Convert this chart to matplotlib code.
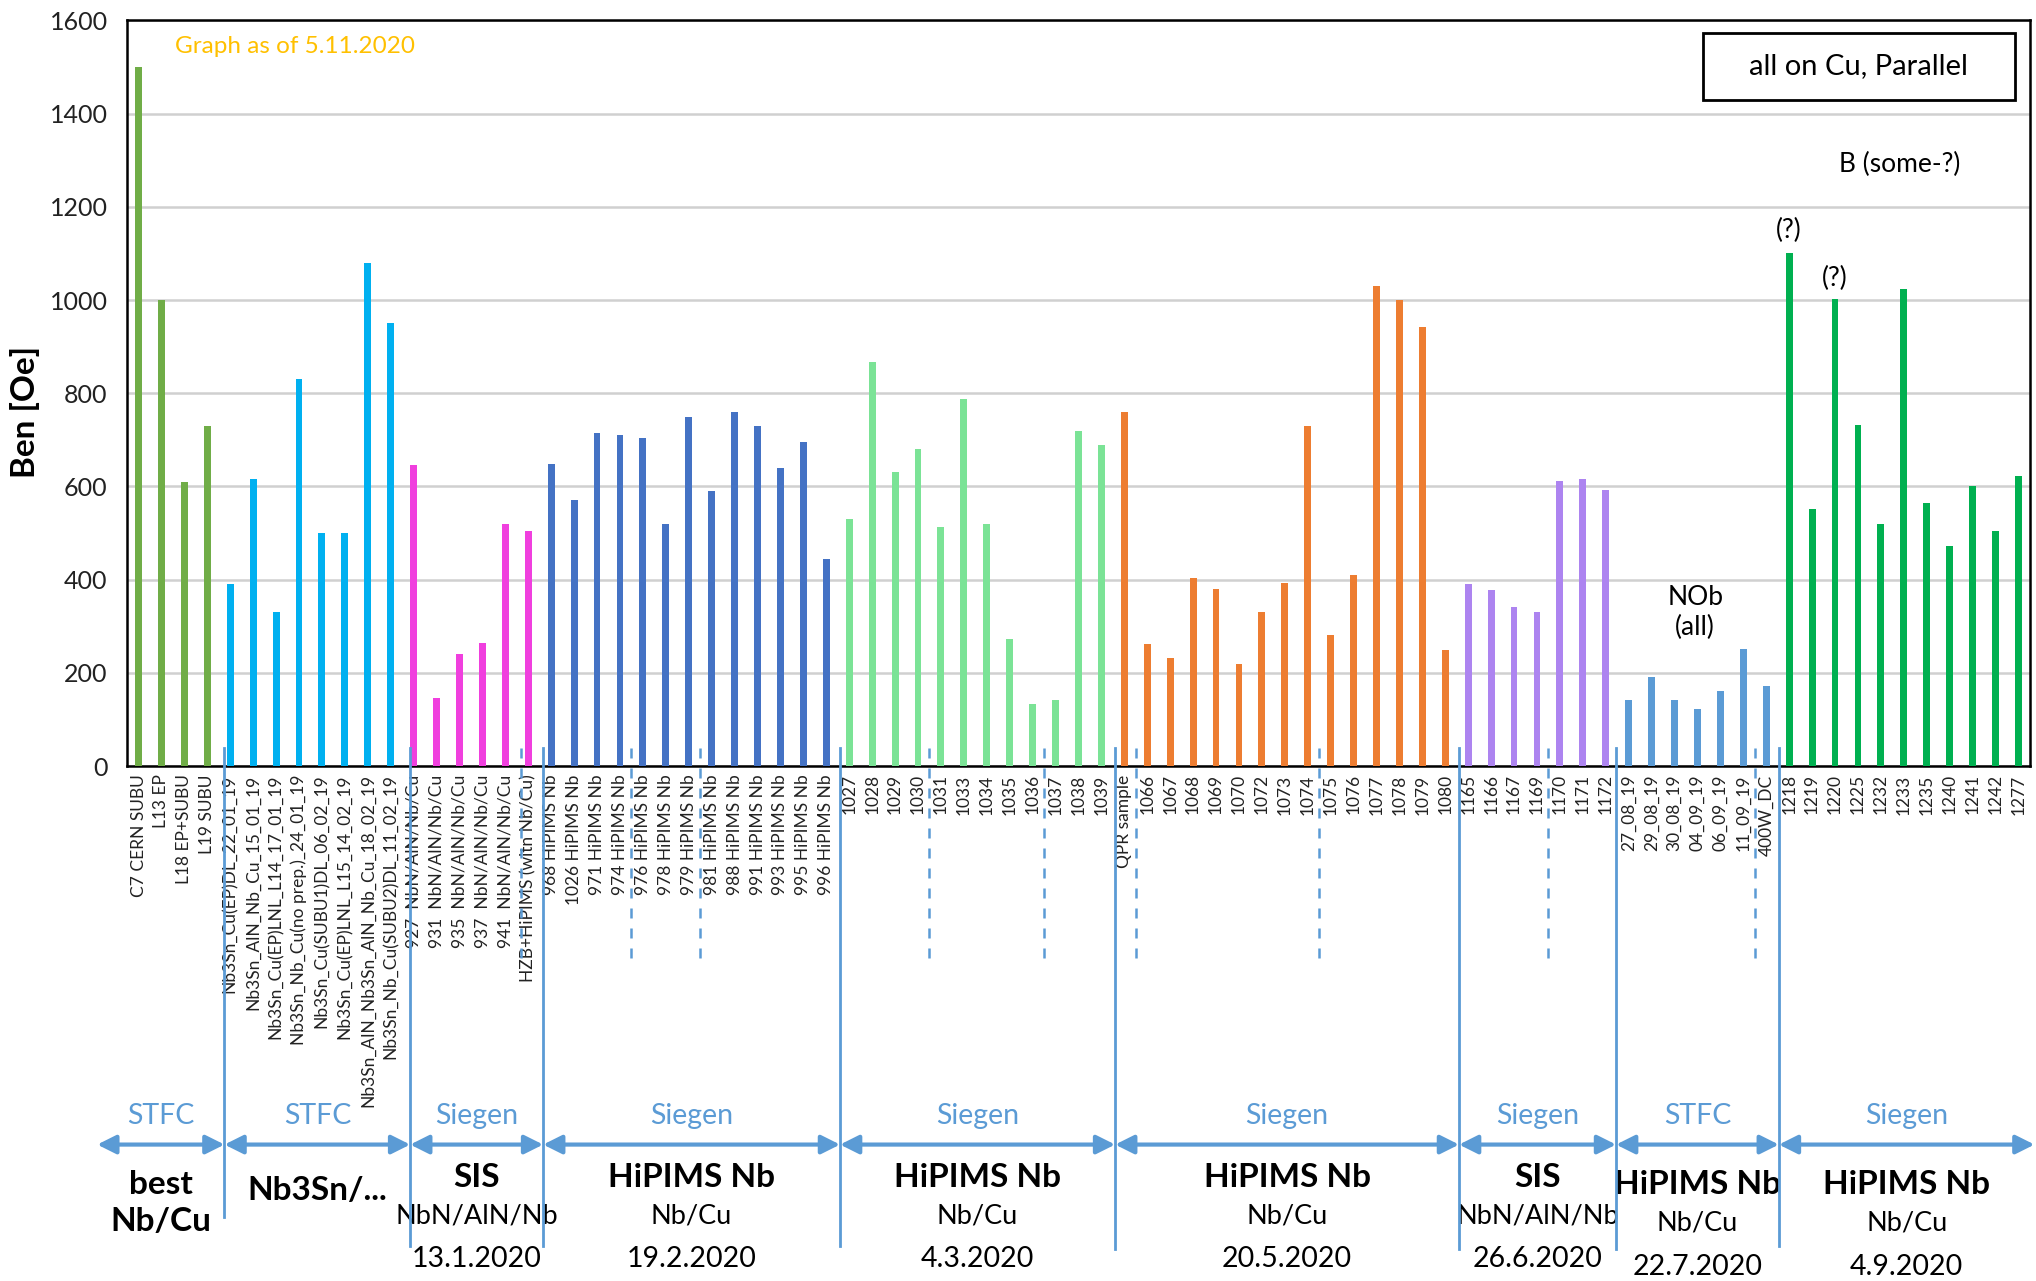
import numpy as np
import matplotlib.pyplot as plt
from matplotlib.patches import Rectangle
from matplotlib.transforms import blended_transform_factory

plt.rcParams['font.family'] = ['Lato', 'DejaVu Sans']

# --- data, one list per sample group ---
best_labels = ["C7 CERN SUBU", "L13 EP", "L18 EP+SUBU", "L19 SUBU"]
best_values = [1500, 1000, 610, 730]

nb3sn_labels = ["Nb3Sn_Cu(EP)DL_22_01_19", "Nb3Sn_AlN_Nb_Cu_15_01_19",
                "Nb3Sn_Cu(EP)LNL_L14_17_01_19", "Nb3Sn_Nb_Cu(no prep.)_24_01_19",
                "Nb3Sn_Cu(SUBU1)DL_06_02_19", "Nb3Sn_Cu(EP)LNL_L15_14_02_19",
                "Nb3Sn_AlN_Nb3Sn_AlN_Nb_Cu_18_02_19", "Nb3Sn_Nb_Cu(SUBU2)DL_11_02_19"]
nb3sn_values = [390, 615, 330, 830, 500, 500, 1080, 950]

sis1_labels = ["927  NbN/AlN/Nb/Cu", "931  NbN/AlN/Nb/Cu", "935  NbN/AlN/Nb/Cu",
               "937  NbN/AlN/Nb/Cu", "941  NbN/AlN/Nb/Cu", "HZB+HiPIMS (witn Nb/Cu)"]
sis1_values = [645, 145, 240, 265, 520, 505]

hip1_labels = ["968 HiPIMS Nb", "1026 HiPIMS Nb", "971 HiPIMS Nb", "974 HiPIMS Nb",
               "976 HiPIMS Nb", "978 HiPIMS Nb", "979 HiPIMS Nb", "981 HiPIMS Nb",
               "988 HiPIMS Nb", "991 HiPIMS Nb", "993 HiPIMS Nb", "995 HiPIMS Nb",
               "996 HiPIMS Nb"]
hip1_values = [648, 570, 715, 710, 705, 520, 750, 590, 760, 730, 640, 695, 445]

hip2_labels = ["1027", "1028", "1029", "1030", "1031", "1033", "1034", "1035",
               "1036", "1037", "1038", "1039"]
hip2_values = [530, 868, 630, 680, 512, 788, 520, 272, 133, 142, 720, 690]

hip3_labels = ["QPR sample", "1066", "1067", "1068", "1069", "1070", "1072", "1073",
               "1074", "1075", "1076", "1077", "1078", "1079", "1080"]
hip3_values = [760, 262, 231, 403, 381, 220, 331, 392, 729, 281, 411, 1030, 1000, 943, 250]

sis2_labels = ["1165", "1166", "1167", "1169", "1170", "1171", "1172"]
sis2_values = [390, 378, 342, 331, 612, 617, 593]

stfc_labels = ["27_08_19", "29_08_19", "30_08_19", "04_09_19", "06_09_19", "11_09_19", "400W_DC"]
stfc_values = [142, 192, 142, 122, 161, 252, 172]

hip4_labels = ["1218", "1219", "1220", "1225", "1232", "1233", "1235", "1240",
               "1241", "1242", "1277"]
hip4_values = [1102, 551, 1002, 732, 520, 1024, 565, 473, 601, 504, 623]

group_colors = ["#70AD47", "#00B0F0", "#F03FDE", "#4472C4", "#7BE396",
                "#ED7D31", "#AD84F0", "#5B9BD5", "#00B050"]

# bottom annotation text per group
site_names = ["STFC", "STFC", "Siegen", "Siegen", "Siegen", "Siegen", "Siegen", "STFC", "Siegen"]
kind_names = ["best\nNb/Cu", "Nb3Sn/...", "SIS", "HiPIMS Nb", "HiPIMS Nb", "HiPIMS Nb",
              "SIS", "HiPIMS Nb", "HiPIMS Nb"]
films = ["", "", "NbN/AlN/Nb", "Nb/Cu", "Nb/Cu", "Nb/Cu", "NbN/AlN/Nb", "Nb/Cu", "Nb/Cu"]
dates = ["", "", "13.1.2020", "19.2.2020", "4.3.2020", "20.5.2020", "26.6.2020",
         "22.7.2020", "4.9.2020"]

all_labels = [best_labels, nb3sn_labels, sis1_labels, hip1_labels, hip2_labels,
              hip3_labels, sis2_labels, stfc_labels, hip4_labels]
all_values = [best_values, nb3sn_values, sis1_values, hip1_values, hip2_values,
              hip3_values, sis2_values, stfc_values, hip4_values]

labels = sum(all_labels, [])
values = sum(all_values, [])
colors = sum([[c] * len(v) for c, v in zip(group_colors, all_values)], [])
x = np.arange(len(values))

line_blue = "#5B9BD5"

fig = plt.figure(figsize=(20.36, 12.81), dpi=100)
ax = fig.add_axes([0.0624, 0.402, 0.9346, 0.582])

ax.bar(x, values, width=0.3, color=colors, zorder=3)
ax.set_xlim(-0.5, len(values) - 0.5)
ax.set_ylim(0, 1600)
ax.set_yticks(np.arange(0, 1601, 200))
ax.yaxis.grid(True, color="#D0D0D0", lw=1.8, zorder=0)
ax.set_xticks(x)
ax.set_xticklabels(labels, rotation=90, fontsize=12.5, color="#222222")
ax.tick_params(axis="x", length=0, pad=6)
ax.tick_params(axis="y", length=0, pad=14, labelsize=18, labelcolor="#222222")
for s in ax.spines.values():
    s.set_linewidth(1.8)
    s.set_color("black")
ax.set_ylabel("Ben [Oe]", fontsize=24, fontweight="bold")
ax.yaxis.set_label_coords(-0.046, 0.475)

# notes inside the plot
ax.text(1.6, 1545, "Graph as of 5.11.2020", color="#FFC000", fontsize=17.5, va="center")
ax.add_patch(Rectangle((0.828, 0.894), 0.164, 0.089, transform=ax.transAxes,
                       fill=False, edgecolor="black", lw=2, zorder=5))
ax.text(0.910, 0.9385, "all on Cu, Parallel", transform=ax.transAxes,
        ha="center", va="center", fontsize=21)
ax.text(76.8, 1290, "B (some-?)", ha="center", va="center", fontsize=19)
ax.text(72, 1150, "(?)", ha="center", va="center", fontsize=19)
ax.text(74, 1047, "(?)", ha="center", va="center", fontsize=19)
ax.text(67.9, 330, "NOb\n(all)", ha="center", va="center", fontsize=19, linespacing=1.25)

# group separators below the axis
tr = blended_transform_factory(ax.transData, fig.transFigure)
seps = [3.75, 11.85, 17.65, 30.6, 42.6, 57.6, 64.45, 71.55]
sep_bottom = [0.05, 0.027, 0.027, 0.027, 0.025, 0.025, 0.025, 0.027]
for sx, sb in zip(seps, sep_bottom):
    ax.plot([sx, sx], [0.416, sb], transform=tr, color=line_blue, lw=2,
            clip_on=False, zorder=6)
dashed = [16.7, 21.5, 24.5, 34.5, 39.5, 43.5, 51.5, 61.5, 70.5]
for dx in dashed:
    ax.plot([dx, dx], [0.416, 0.248], transform=tr, color=line_blue, lw=1.8,
            ls=(0, (4, 4)), clip_on=False, zorder=6)

# arrows and group captions
bounds = [-1.8] + seps + [82.7]
arrow_y = 0.1065
for i in range(len(bounds) - 1):
    a, b = bounds[i], bounds[i + 1]
    ax.annotate("", xy=(b, arrow_y), xytext=(a, arrow_y), xycoords=tr, textcoords=tr,
                arrowprops=dict(arrowstyle="<|-|>", color=line_blue, lw=3,
                                mutation_scale=28, shrinkA=0, shrinkB=0),
                annotation_clip=False)
    cx = (a + b) / 2
    ax.text(cx, 0.129, site_names[i], transform=tr, ha="center", va="center",
            color=line_blue, fontsize=20.5)
    if i == 0:
        ax.text(cx, 0.061, kind_names[i], transform=tr, ha="center", va="center",
                fontsize=24, fontweight="bold", linespacing=1.35)
        continue
    if i == 1:
        ax.text(cx, 0.071, kind_names[i], transform=tr, ha="center", va="center",
                fontsize=24, fontweight="bold")
        continue
    dy = -0.006 if i >= 7 else 0.0
    ax.text(cx, 0.081 + dy, kind_names[i], transform=tr, ha="center", va="center",
            fontsize=24, fontweight="bold")
    ax.text(cx, 0.051 + dy, films[i], transform=tr, ha="center", va="center",
            fontsize=19.5)
    ax.text(cx, 0.017 + dy, dates[i], transform=tr, ha="center", va="center",
            fontsize=20.5)

fig.savefig("out.png", dpi=100)
